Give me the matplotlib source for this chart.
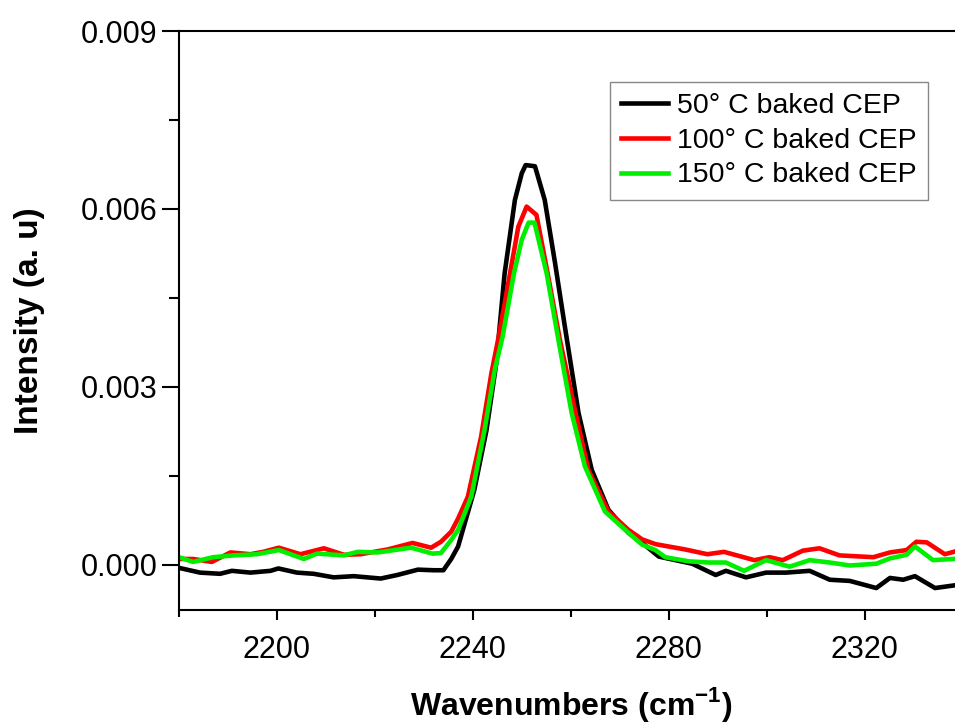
import numpy as np
import matplotlib.pyplot as plt
from matplotlib.ticker import MultipleLocator, FormatStrFormatter

plt.rcParams['font.family'] = ['Liberation Sans', 'DejaVu Sans']
plt.rcParams['mathtext.fontset'] = 'custom'
plt.rcParams['mathtext.rm'] = 'Liberation Sans'
plt.rcParams['mathtext.bf'] = 'Liberation Sans:bold'

# 50 C baked
x_50 = [2180, 2184.3, 2188.4, 2190.8, 2194.6, 2198.7, 2200.3, 2204.1, 2207.5, 2211.6,
        2215.7, 2221.2, 2224.6, 2228.8, 2232, 2234, 2235.6, 2237, 2240.3, 2242.8,
        2244.8, 2246.5, 2248.6, 2250, 2250.8, 2252.7, 2254.7, 2256.8, 2258.8, 2261.6,
        2264.3, 2267.7, 2271.8, 2274.6, 2278, 2284.8, 2289.6, 2291.7, 2295.8, 2299.9,
        2304, 2308.8, 2312.9, 2317, 2322.4, 2325.2, 2327.9, 2330.3, 2334.4, 2338.8, 2340]
y_50 = [-0.00005, -0.00013, -0.00015, -0.0001, -0.00013, -0.0001, -0.00006, -0.00013, -0.00015, -0.00021,
        -0.00019, -0.00023, -0.00017, -0.00008, -0.00009, -0.00009, 0.0001, 0.00031, 0.00126, 0.00227,
        0.0034, 0.00491, 0.00615, 0.0066, 0.00674, 0.00672, 0.00615, 0.00509, 0.00402, 0.00256,
        0.0016, 0.00093, 0.00054, 0.00037, 0.00014, 0.00002, -0.00017, -0.0001, -0.00021, -0.00013,
        -0.00013, -0.0001, -0.00025, -0.00027, -0.00039, -0.00022, -0.00025, -0.00019, -0.00039, -0.00034, -0.00032]

# 100 C baked
x_100 = [2180, 2182.9, 2186.7, 2190.5, 2194.6, 2197.2, 2200.4, 2204.8, 2209.6, 2213.7,
         2217.1, 2222.6, 2227.7, 2231.5, 2233.5, 2235.6, 2237, 2239, 2241.7, 2243.8,
         2245.3, 2247.6, 2249.3, 2251, 2253, 2255.3, 2257.8, 2261, 2263.6, 2267.7,
         2271.8, 2274.6, 2277.3, 2283.4, 2287.9, 2291.3, 2297.5, 2300.6, 2303.3, 2307.4,
         2310.8, 2314.9, 2321.8, 2325.2, 2328.6, 2330.6, 2332.7, 2336.4, 2340]
y_100 = [0.0001, 0.0001, 0.00005, 0.00021, 0.00018, 0.00022, 0.00029, 0.00018, 0.00028, 0.00017,
         0.00018, 0.00026, 0.00037, 0.00029, 0.00039, 0.00056, 0.00078, 0.00115, 0.00216, 0.00323,
         0.00385, 0.00491, 0.0057, 0.00604, 0.0059, 0.00491, 0.00379, 0.00256, 0.0016, 0.0009,
         0.00059, 0.00043, 0.00035, 0.00026, 0.00018, 0.00022, 0.00008, 0.00013, 0.00008, 0.00024,
         0.00028, 0.00016, 0.00013, 0.00021, 0.00025, 0.00039, 0.00038, 0.00018, 0.00026]

# 150 C baked
x_150 = [2180, 2182.9, 2187, 2191.1, 2195.9, 2200.4, 2205.5, 2208.2, 2213.7, 2216.5,
         2220.6, 2227.4, 2231.8, 2233.5, 2235.6, 2237, 2239.7, 2242.4, 2244.5, 2246.1,
         2248.4, 2250, 2251.4, 2252.6, 2255.1, 2257.5, 2260.2, 2262.9, 2267, 2271.8,
         2274.6, 2277.3, 2279.3, 2284.1, 2288.2, 2291.7, 2295.4, 2299.9, 2304.7, 2308.8,
         2312.9, 2317, 2322.4, 2325.2, 2328.6, 2330.3, 2334, 2340]
y_150 = [0.00013, 0.00005, 0.00013, 0.00016, 0.00018, 0.00025, 0.0001, 0.00019, 0.00016, 0.00022,
         0.00021, 0.00029, 0.00019, 0.0002, 0.00042, 0.00059, 0.00115, 0.00227, 0.00329, 0.00385,
         0.00491, 0.00548, 0.00577, 0.00577, 0.00491, 0.00379, 0.00256, 0.00166, 0.0009, 0.00054,
         0.00034, 0.00025, 0.00013, 0.00006, 0.00004, 0.00004, -0.0001, 0.00008, -0.00003, 0.00008,
         0.00004, -0.00001, 0.00002, 0.00011, 0.00017, 0.00031, 0.00008, 0.00011]

labels = ['50\u00b0 C baked CEP', '100\u00b0 C baked CEP', '150\u00b0 C baked CEP']
colors = ['black', '#ff0000', '#00ee00']

fig = plt.figure(figsize=(9.55, 7.26), dpi=100)
ax = fig.add_axes([0.1874, 0.1598, 0.8204, 0.7975])

for xs, ys, lab, c in zip([x_50, x_100, x_150], [y_50, y_100, y_150], labels, colors):
    ax.plot(xs, ys, color=c, lw=3.3, label=lab)

ax.set_xlim(2180, 2340)
ax.set_ylim(-0.00076, 0.009)
ax.xaxis.set_major_locator(MultipleLocator(40))
ax.xaxis.set_minor_locator(MultipleLocator(20))
ax.yaxis.set_major_locator(MultipleLocator(0.003))
ax.yaxis.set_minor_locator(MultipleLocator(0.0015))
ax.yaxis.set_major_formatter(FormatStrFormatter('%.3f'))
ax.set_xticks([2200, 2240, 2280, 2320])

for s in ax.spines.values():
    s.set_linewidth(1.5)
ax.spines['right'].set_visible(False)

ax.tick_params(axis='both', which='both', direction='out', width=1.5, labelsize=22, top=False, right=False)
ax.tick_params(axis='y', which='major', length=12, pad=3.5)
ax.tick_params(axis='y', which='minor', length=7)
ax.tick_params(axis='x', which='major', length=7, pad=11)
ax.tick_params(axis='x', which='minor', length=5)

ax.set_xlabel(r'Wavenumbers (cm$^{\mathbf{-1}}$)', fontsize=23, fontweight='bold')
ax.set_ylabel('Intensity (a. u)', fontsize=24, fontweight='bold')
ax.xaxis.set_label_coords(0.5, -0.13)
ax.yaxis.set_label_coords(-0.171, 0.5)

leg = ax.legend(loc='upper right', bbox_to_anchor=(928 / 955, 1 - 82 / 726),
                bbox_transform=fig.transFigure, borderaxespad=0, fontsize=20.5,
                fancybox=False, framealpha=1, edgecolor='#888888',
                handlelength=1.65, handletextpad=0.3, labelspacing=0.3, borderpad=0.4)
leg.get_frame().set_linewidth(1)

fig.savefig('out.png', dpi=100)
